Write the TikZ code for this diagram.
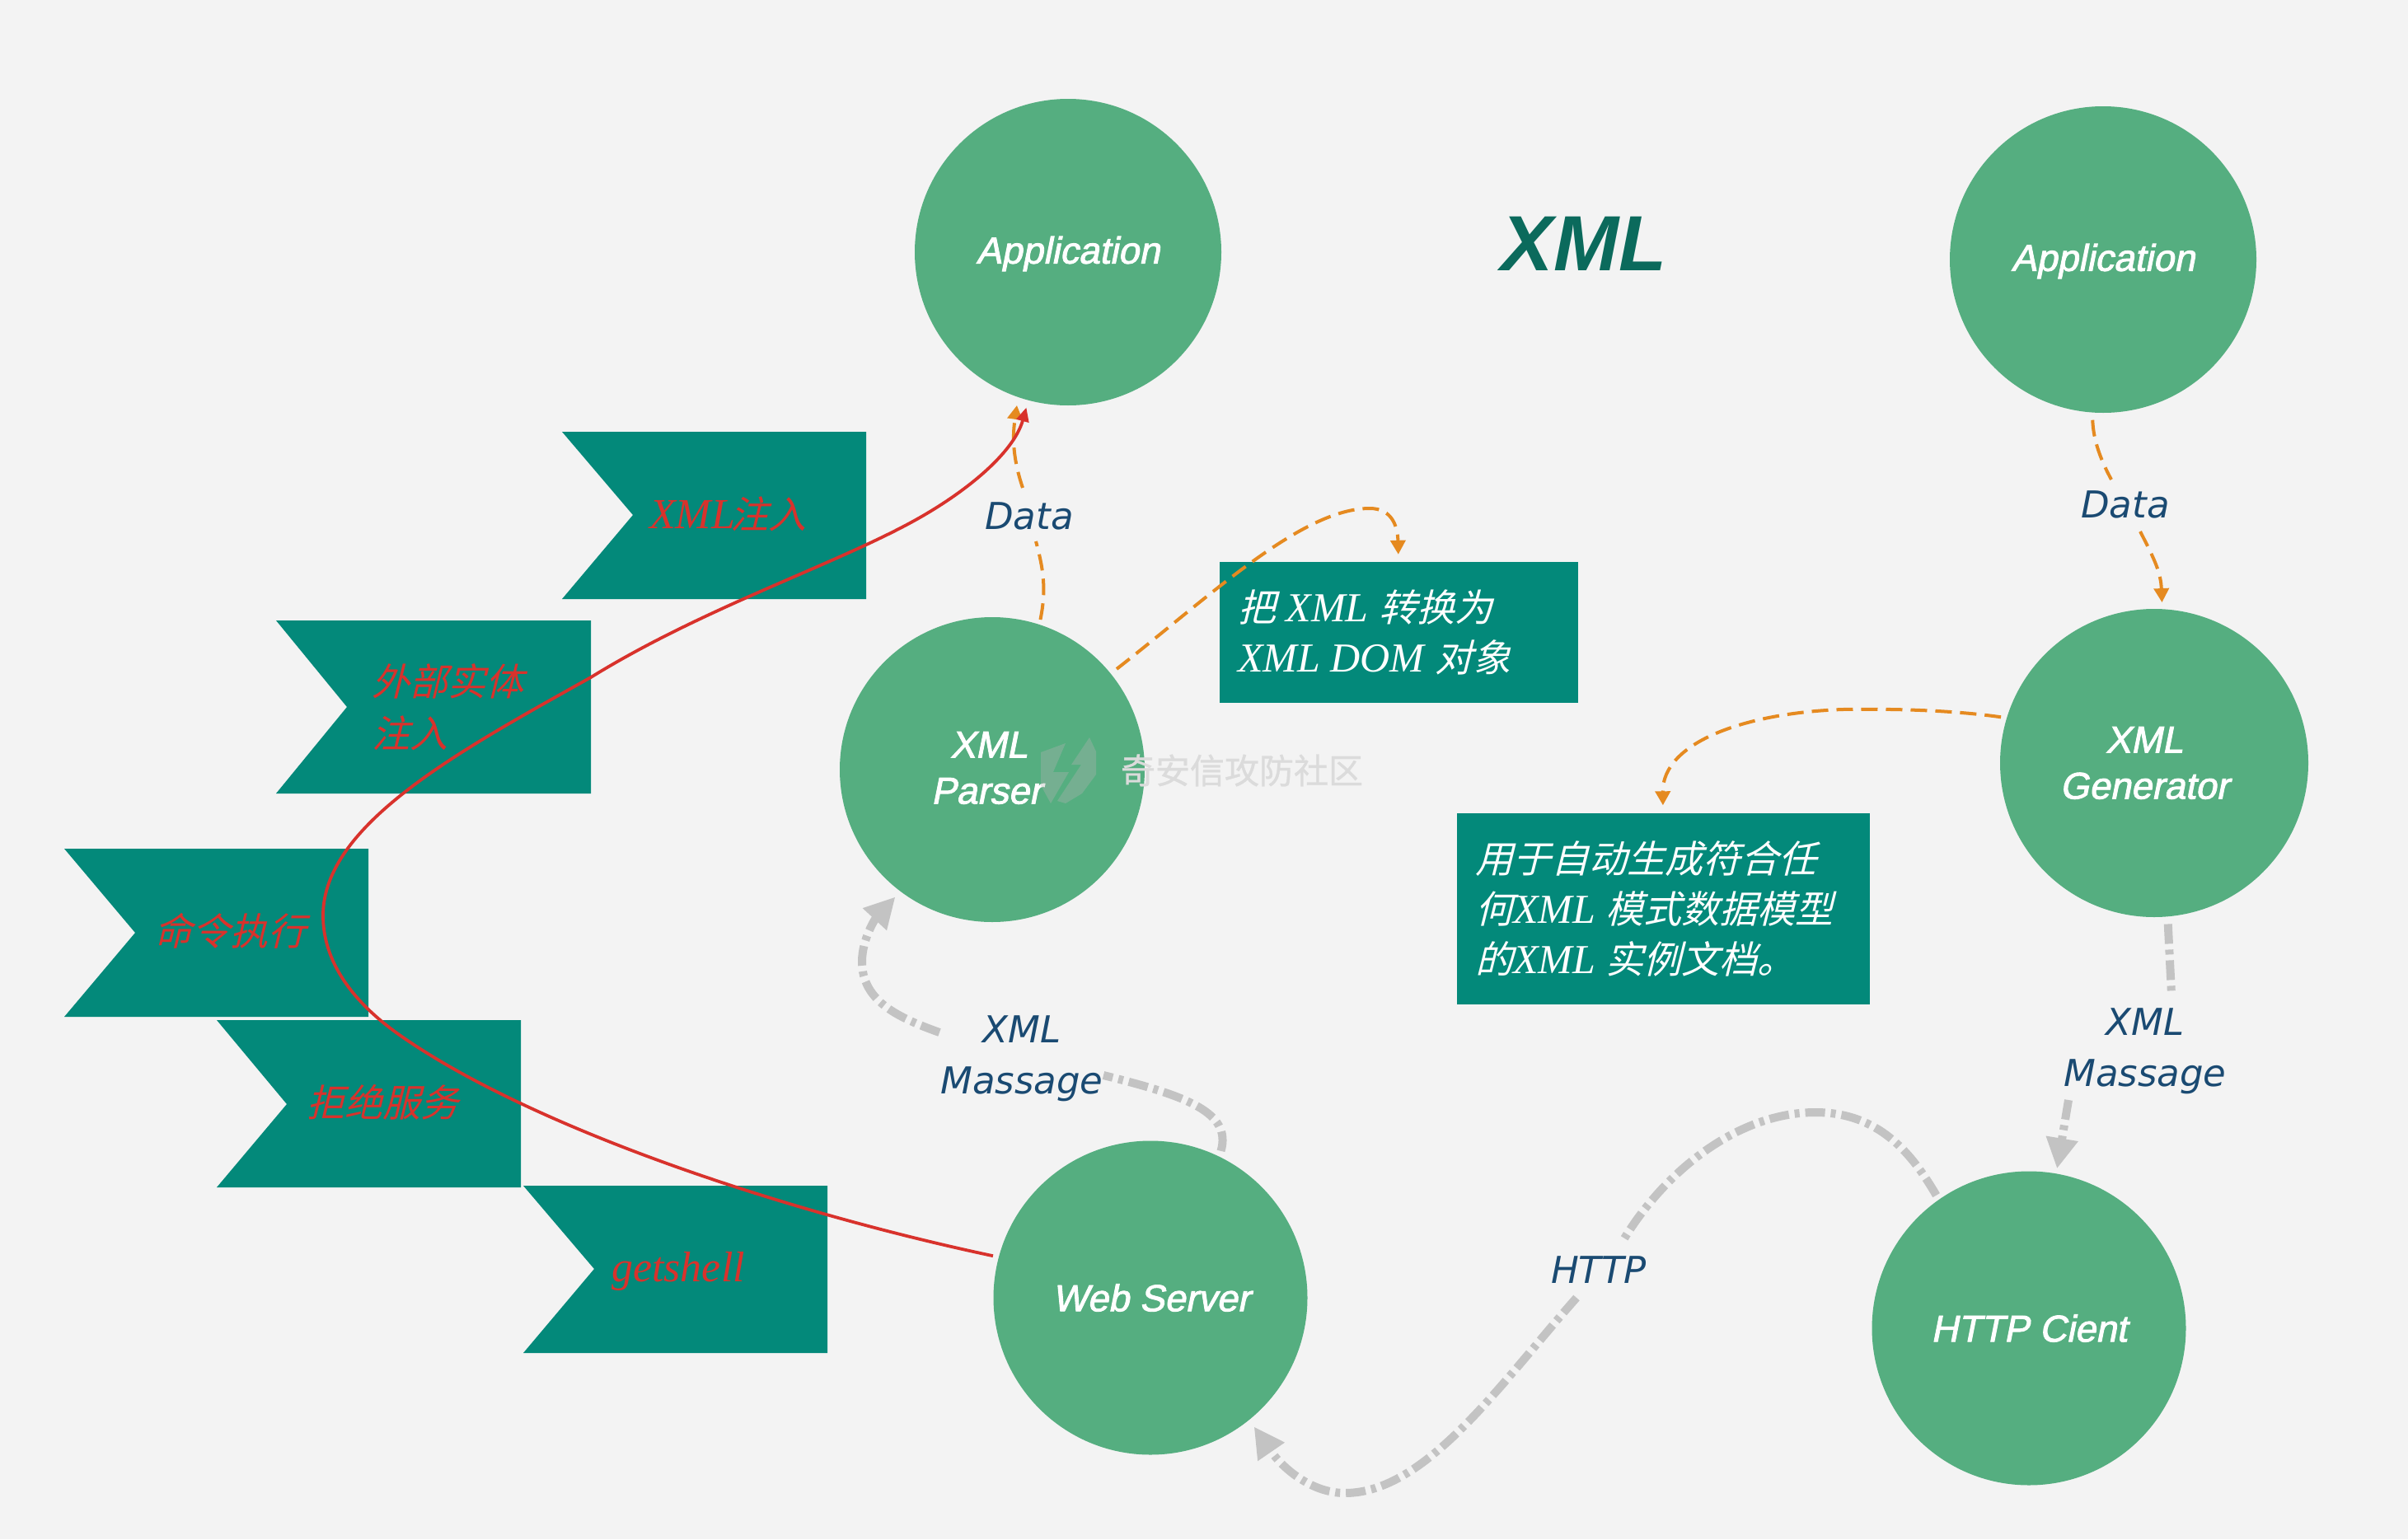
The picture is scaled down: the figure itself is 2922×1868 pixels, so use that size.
\documentclass[tikz,border=0pt]{standalone}
\usepackage{fontspec}
\usetikzlibrary{arrows.meta}
\setmainfont{Liberation Sans}
\newfontfamily\cjkit[FakeSlant=0.25]{Noto Sans CJK SC}
\newfontfamily\cjkbold[FakeBold=0.8]{Noto Sans CJK SC}
\newfontfamily\serifit{Liberation Serif}
\newfontfamily\verd{DejaVu Sans}
\newfontfamily\cfont[FakeSlant=0.2,FakeBold=2]{Liberation Sans}
\definecolor{bgc}{HTML}{F3F3F3}
\definecolor{circ}{HTML}{55AE80}
\definecolor{teal2}{HTML}{03897A}
\definecolor{navy}{HTML}{1A4A72}
\definecolor{titlec}{HTML}{0B6A5C}
\definecolor{redc}{HTML}{D8322C}
\definecolor{orangec}{HTML}{E58A20}
\definecolor{greyc}{HTML}{C3C3C3}
\tikzset{
 x=1pt,y=-1pt,
 circ node/.style={circle,fill=circ,inner sep=0pt},
 circ text/.style={text=white,align=center,inner sep=0pt,font=\fontsize{45.5}{56}\selectfont\cfont},
 lab/.style={text=navy,align=center,font=\fontsize{45}{62}\selectfont\verd\itshape,inner sep=0pt},
 flagtxt/.style={text=redc,anchor=west,align=left,inner sep=0pt,font=\fontsize{52}{63}\selectfont\serifit\itshape},
 boxn/.style={fill=teal2,draw=teal2,inner sep=0pt},
 boxtxt/.style={text=white,anchor=west,align=left,inner sep=0pt,font=\fontsize{50}{61}\selectfont\serifit\itshape},
 flagshape/.style={fill=teal2},
 orangeline/.style={draw=orangec,line width=4pt,dash pattern=on 20pt off 10pt},
 orangearrow/.style={orangeline,-{Triangle[length=17pt,width=18pt,fill=orangec]}},
 greyline/.style={draw=greyc,line width=10pt,dash pattern=on 24pt off 7pt on 6pt off 7pt},
 greyarrow/.style={greyline,-{Triangle[length=37pt,width=37pt,fill=greyc]}},
 redarrow/.style={draw=redc,line width=3.8pt,-{Triangle[length=17pt,width=15pt,fill=redc]}},
}
\newcommand{\zh}[1]{{\fontsize{46}{61}\selectfont\cjkit #1}}
\newcommand{\zf}[1]{{\fontsize{46}{63}\selectfont\cjkit #1}}
\begin{document}
\begin{tikzpicture}
\useasboundingbox (0,0) rectangle (2922,1868);
\fill[bgc] (0,0) rectangle (2922,1868);

% flags
\fill[flagshape] (682,524)--(1051,524)--(1051,727)--(682,727)--(768,625)--cycle;
\fill[flagshape] (335,753)--(717,753)--(717,963)--(335,963)--(421,858)--cycle;
\fill[flagshape] (78,1030)--(447,1030)--(447,1234)--(78,1234)--(164,1132)--cycle;
\fill[flagshape] (263,1238)--(632,1238)--(632,1441)--(263,1441)--(348,1340)--cycle;
\fill[flagshape] (635,1439)--(1004,1439)--(1004,1642)--(635,1642)--(721,1540)--cycle;

% circles
\node[circ node,minimum size=372pt] (app1) at (1296,306) {};
\node[circ node,minimum size=372pt] (app2) at (2552,315) {};
\node[circ node,minimum size=370pt] (parser) at (1204,934) {};
\node[circ node,minimum size=374pt] (gen) at (2614,926) {};
\node[circ node,minimum size=381pt] (web) at (1396,1575) {};
\node[circ node,minimum size=381pt] (client) at (2462,1612) {};
\node[circ text] (app1t) at (1296,308) {Application};
\node[circ text] (app2t) at (2552,317) {Application};
\node[circ text] (parsert) at (1197,932) {\hspace*{6pt}XML\\Parser};
\node[circ text] (gent) at (2602,926) {XML\\Generator};
\node[circ text] (webt) at (1397,1575) {Web Server};
\node[circ text] (clientt) at (2462,1612) {HTTP Cient};

% boxes
\node[boxn,minimum width=434pt,minimum height=170pt] (dom) at (1697,767) {};
\node[boxn,minimum width=500pt,minimum height=231pt] (auto) at (2018,1103) {};
\node[boxtxt] (domt) at (1502,767) {\zh{把} XML \zh{转换为}\\XML DOM \zh{对象}};
\node[boxtxt] (autot) at (1790,1103) {\zh{用于自动生成符合任}\\\zh{何}XML \zh{模式数据模型}\\\zh{的}XML \zh{实例文档。}};

% labels
\node[text=titlec,inner sep=0pt,font=\fontsize{95}{100}\selectfont\bfseries\itshape] (title) at (1922,296) {XML};
\node[lab] (data1) at (1249,626) {Data};
\node[lab] (data2) at (2579,612) {Data};
\node[lab] (mass1) at (1240,1285) {XML\\Massage};
\node[lab] (mass2) at (2603,1276) {XML\\Massage};
\node[lab] (http) at (1940,1541) {HTTP};

% flag text
\node[flagtxt] (f1) at (788,624) {XML\kern-6pt\zf{注入}};
\node[flagtxt] (f2) at (451,858) {\zf{外部实体}\\\zf{注入}};
\node[flagtxt] (f3) at (187,1130) {\zf{命令执行}};
\node[flagtxt] (f4) at (372,1338) {\zf{拒绝服务}};
\node[flagtxt] (f5) at (742,1543) {getshell};

% watermark
\fill[gray!60!white,opacity=.35] (1263,913)--(1293,902)--(1278,937)--(1297,937)--(1275,975)--(1263,953)--cycle;
\fill[gray!60!white,opacity=.35] (1322,895)--(1330,912)--(1330,940)--(1313,963)--(1293,975)--(1283,972)--(1312,928)--(1300,928)--cycle;
\node[text=black!14,inner sep=0pt,font=\fontsize{42}{42}\selectfont\cjkbold] (wm) at (1507,935) {奇安信攻防社区};

% free ends at the labels
\coordinate (d1low) at (1257,657);
\coordinate (d1up) at (1241,592);
\coordinate (d2up) at (2562,582);
\coordinate (d2low) at (2597,645);
\coordinate (m1up) at (1140,1253);
\coordinate (m1low) at (1339,1305);
\coordinate (m2up) at (2635,1207);
\coordinate (m2low) at (2510,1335);
\coordinate (h1) at (1968,1508);
\coordinate (h2) at (1913,1575);

% orange connectors
\draw[orangeline,shorten <=6pt] (parser.72) .. controls (1270,715) and (1266,690) .. (d1low);
\draw[orangearrow,shorten >=10pt] (d1up) .. controls (1226,548) and (1230,520) .. (app1.-109);
\draw[orangearrow,shorten >=9pt,shorten <=9pt] (parser.39) .. controls (1470,722) and (1580,617) .. (1662,617) .. controls (1690,617) and (1696,640) .. (dom.north);
\draw[orangearrow,shorten >=10pt,shorten <=7pt] (gen.163) .. controls (2370,862) and (2300,860) .. (2236,861) .. controls (2120,865) and (2017,900) .. (auto.north);
\draw[orangeline,shorten <=9pt] (app2.-94) .. controls (2540,535) and (2550,560) .. (d2up);
\draw[orangearrow,shorten >=8pt] (d2low) .. controls (2615,680) and (2622,695) .. (gen.87);

% grey connectors
\draw[greyline,shorten <=7pt] (web.64) .. controls (1495,1350) and (1440,1330) .. (m1low);
\draw[greyarrow,shorten >=9pt] (m1up) .. controls (1090,1235) and (1046,1215) .. (1046,1167) .. controls (1046,1140) and (1062,1115) .. (parser.-127);
\draw[greyline,shorten <=9pt] (gen.-85) -- (m2up);
\draw[greyarrow,shorten >=6pt] (m2low) -- (client.80);
\draw[greyline,shorten <=6pt] (client.125) .. controls (2320,1400) and (2280,1350) .. (2203,1350) .. controls (2110,1350) and (2020,1420) .. (h1);
\draw[greyarrow,shorten >=10pt] (h2) .. controls (1820,1680) and (1730,1812) .. (1632,1812) .. controls (1590,1812) and (1555,1780) .. (web.-51);

% red connector
\draw[redarrow,shorten >=9pt,shorten <=7pt] (web.165) .. controls (950,1470) and (650,1370) .. (489,1259) .. controls (425,1215) and (392,1165) .. (392,1111) .. controls (392,1000) and (560,910) .. (717,822) .. controls (850,740) and (1000,690) .. (1100,637) .. controls (1170,600) and (1230,550) .. (app1.-105);
\end{tikzpicture}
\end{document}
